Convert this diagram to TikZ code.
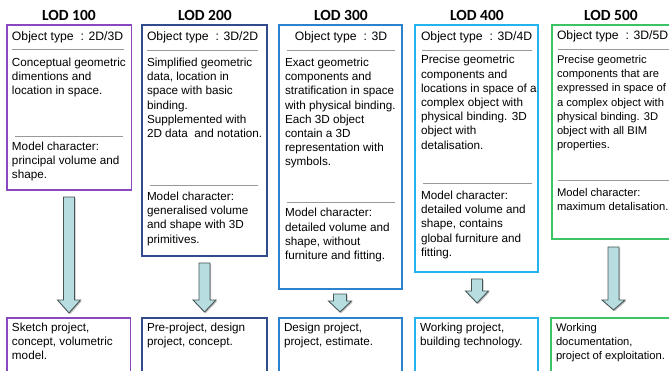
\documentclass[tikz,border=0pt]{standalone}
\usepackage{fontspec}
\setmainfont{Liberation Sans}
\newfontfamily\titlefont{Carlito}
\definecolor{cA}{RGB}{137,72,190}
\definecolor{cB}{RGB}{50,75,140}
\definecolor{cC}{RGB}{45,130,205}
\definecolor{cD}{RGB}{35,180,240}
\definecolor{cE}{RGB}{60,195,100}
\definecolor{arrfill}{RGB}{183,221,224}
\definecolor{arrline}{RGB}{70,85,85}
\newcommand\fl{\rule{0pt}{10pt}}
\newcommand\lodarrow[6]{% name, cx, top, headstart, tip, shaft half width
  \fill[black!25] (#2-#6+1.2,#3+1.2) -- (#2+#6+1.2,#3+1.2) -- (#2+#6+1.2,#4+1.2) -- (#2+11.5+1.2,#4+1.2) -- (#2+1.2,#5+1.2) -- (#2-11.5+1.2,#4+1.2) -- (#2-#6+1.2,#4+1.2) -- cycle;
  \draw[arrsty] (#2-#6,#3) coordinate (#1) -- (#2+#6,#3) -- (#2+#6,#4) -- (#2+11.5,#4) -- (#2,#5) -- (#2-11.5,#4) -- (#2-#6,#4) -- cycle;}
\tikzset{
  lodbox/.style={draw, line width=1.3pt, rectangle, anchor=north west, outer sep=0pt, inner sep=0pt},
  lodtitle/.style={font=\titlefont\bfseries\fontsize{15.5pt}{18pt}\selectfont, anchor=base, inner sep=0pt},
  ot/.style={font=\fontsize{12.2pt}{15pt}\selectfont, align=left, anchor=north west, inner sep=0pt, outer sep=0pt},
  body/.style={font=\fontsize{11.7pt}{14.2pt}\selectfont, align=left, anchor=north west, inner sep=0pt, outer sep=0pt},
  narrow/.style={font=\fontsize{11.2pt}{14.2pt}\selectfont},
  sep/.style={draw=black!40, line width=0.7pt},
  arrsty/.style={draw=arrline, fill=arrfill, line width=0.9pt, line join=miter},
}
\begin{document}
\begin{tikzpicture}[x=1pt,y=-1pt]
\useasboundingbox (0,0) rectangle (669,371);
\clip (0,0) rectangle (669,371);
\fill[white] (0,0) rectangle (669,371);

% titles
\node[lodtitle] (l1) at (69,20.5) {LOD 100};
\node[lodtitle] (l2) at (205,20.5) {LOD 200};
\node[lodtitle] (l3) at (341,20.5) {LOD 300};
\node[lodtitle] (l4) at (477,20.5) {LOD 400};
\node[lodtitle] (l5) at (611,20.5) {LOD 500};

% upper boxes
\node[lodbox, draw=cA, minimum width=124.5pt, minimum height=165pt] (b1) at (7,25) {};
\node[lodbox, draw=cB, minimum width=125pt, minimum height=231pt] (b2) at (142,25) {};
\node[lodbox, draw=cC, minimum width=123pt, minimum height=264pt] (b3) at (279,25) {};
\node[lodbox, draw=cD, minimum width=123pt, minimum height=247pt] (b4) at (415,25) {};
\node[lodbox, draw=cE, minimum width=124pt, minimum height=214pt] (b5) at (552,25) {};

% lower boxes
\node[lodbox, draw=cA, minimum width=123.5pt, minimum height=70pt] (d1) at (7,318) {};
\node[lodbox, draw=cB, minimum width=125pt, minimum height=70pt] (d2) at (142,318) {};
\node[lodbox, draw=cC, minimum width=123pt, minimum height=70pt] (d3) at (279,318) {};
\node[lodbox, draw=cD, minimum width=123pt, minimum height=70pt] (d4) at (415,318) {};
\node[lodbox, draw=cE, minimum width=124pt, minimum height=70pt] (d5) at (551,318) {};

% separators
\draw[sep] (12,49.5) -- (124,49.5);
\draw[sep] (15,136.5) -- (123,136.5);
\draw[sep] (147,50) -- (258,50);
\draw[sep] (150,185) -- (258,185);
\draw[sep] (287,50) -- (395,50);
\draw[sep] (287,202) -- (395,202);
\draw[sep] (422,50) -- (532,50);
\draw[sep] (423,183) -- (532,183);
\draw[sep] (558,49) -- (669,49);
\draw[sep] (558,180) -- (669,180);

% box 1
\node[ot] (o1) at (12,31) {\fl Object type\hspace{7pt}: 2D/3D};
\node[body] (p1) at (12,56.5) {\fl Conceptual geometric\\dimentions and\\location in space.};
\node[body] (q1) at (12,140.5) {\fl Model character:\\principal volume and\\shape.};
% box 2
\node[ot] (o2) at (147,31) {\fl Object type\hspace{7pt}: 3D/2D};
\node[body] (p2) at (147,56.5) {\fl Simplified geometric\\data, location in\\space with basic\\binding.\\Supplemented with\\2D data\ \ and notation.};
\node[body] (q2) at (147,190.5) {\fl Model character:\\generalised volume\\and shape with 3D\\primitives.};
% box 3
\node[ot, anchor=north] (o3) at (341,31) {\fl Object type\hspace{7pt}: 3D};
\node[body] (p3) at (285,56.5) {\fl Exact geometric\\components and\\stratification in space\\with physical binding.\\Each 3D object\\contain a 3D\\representation with\\symbols.};
\node[body] (q3) at (285,207) {\fl Model character:\\detailed volume and\\shape, without\\furniture and fitting.};
% box 4
\node[ot] (o4) at (421,31) {\fl Object type\hspace{7pt}: 3D/4D};
\node[body] (p4) at (421,54) {\fl Precise geometric\\components and\\locations in space of a\\complex object with\\physical binding. 3D\\object with\\detalisation.};
\node[body] (q4) at (421,189.5) {\fl Model character:\\detailed volume and\\shape, contains\\global furniture and\\fitting.};
% box 5
\node[ot] (o5) at (557,30) {\fl Object type\hspace{7pt}: 3D/5D};
\node[body, narrow] (p5) at (557,53.5) {\fl Precise geometric\\components that are\\expressed in space of\\a complex object with\\physical binding. 3D\\object with all BIM\\properties.};
\node[body, narrow] (q5) at (557,186.5) {\fl Model character:\\maximum detalisation.};

% lower texts
\node[body] (r1) at (12,321.5) {\fl Sketch project,\\concept, volumetric\\model.};
\node[body] (r2) at (147,321.5) {\fl Pre-project, design\\project, concept.};
\node[body] (r3) at (284,321.5) {\fl Design project,\\project, estimate.};
\node[body] (r4) at (420,321.5) {\fl Working project,\\building technology.};
\node[body, narrow] (r5) at (556,321.5) {\fl Working\\documentation,\\project of exploitation.};

% arrows
\lodarrow{a1}{69}{197}{300}{313}{5.5}
\lodarrow{a2}{204.5}{263}{300}{312}{5.5}
\lodarrow{a3}{340}{294}{301}{312}{6.5}
\lodarrow{a4}{477}{279}{291}{303}{5.5}
\lodarrow{a5}{613.5}{247}{300}{310}{5.5}
\end{tikzpicture}
\end{document}
